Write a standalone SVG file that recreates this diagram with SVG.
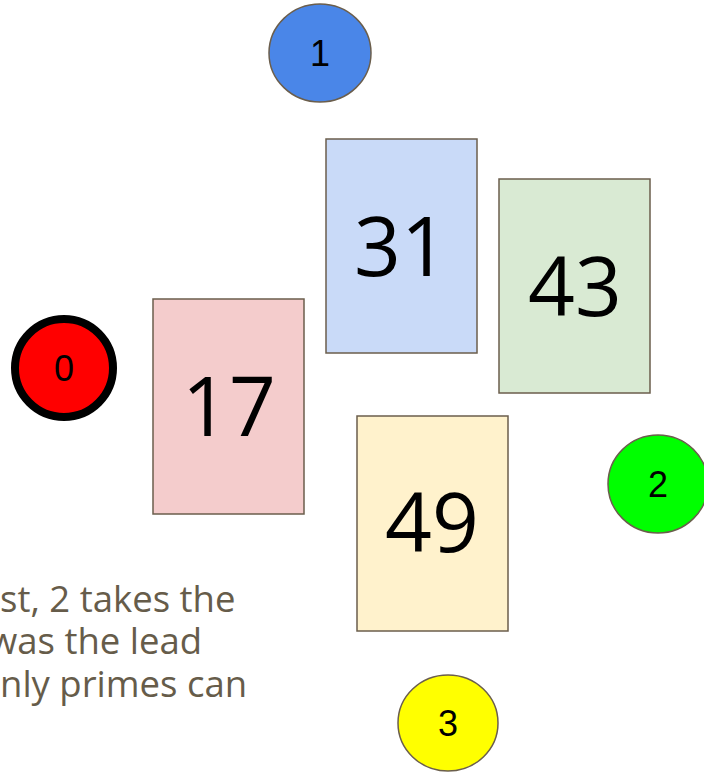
<svg xmlns="http://www.w3.org/2000/svg" width="704" height="772" viewBox="0 0 704 772">
<style>
.card{stroke:#6b5e4c;stroke-width:1.5}
.num{font-family:"Open Sans",sans-serif;font-size:82px;fill:#000;text-anchor:middle}
.ball{stroke:#6b5e4c;stroke-width:1.5}
.lbl{font-family:"Liberation Sans",Arial,sans-serif;font-size:36px;fill:#000;text-anchor:middle}
.note{font-family:"Open Sans",sans-serif;font-size:36.5px;fill:#665c4a}
</style>
<rect width="704" height="772" fill="#fff"/>
<g id="note">
<text class="note" x="0" y="612">st, 2 takes the</text>
<text class="note" x="-11" y="654">was the lead</text>
<text class="note" x="0" y="697">nly primes can</text>
</g>
<g id="connectors"></g>
<g id="card17"><rect class="card" x="153" y="299" width="151" height="215" fill="#f4cccc"/><text class="num" x="229" y="436">17</text></g>
<g id="card31"><rect class="card" x="326" y="139" width="151" height="214" fill="#c9daf8"/><text class="num" x="401" y="276">31</text></g>
<g id="card43"><rect class="card" x="499" y="179" width="151" height="214" fill="#d9ead3"/><text class="num" x="575" y="316">43</text></g>
<g id="card49"><rect class="card" x="357" y="416" width="151" height="215" fill="#fff2cc"/><text class="num" x="432" y="552">49</text></g>
<g id="ball0"><circle cx="64" cy="368" r="49" fill="#ff0000" stroke="#000" stroke-width="8"/><text class="lbl" x="64" y="381">0</text></g>
<g id="ball1"><ellipse class="ball" cx="320" cy="53" rx="51" ry="49" fill="#4a86e8"/><text class="lbl" x="320" y="66">1</text></g>
<g id="ball2"><ellipse class="ball" cx="658" cy="484" rx="50" ry="49" fill="#00ff00"/><text class="lbl" x="658" y="497">2</text></g>
<g id="ball3"><ellipse class="ball" cx="448" cy="723" rx="50" ry="48" fill="#ffff00"/><text class="lbl" x="448" y="736">3</text></g>
</svg>
